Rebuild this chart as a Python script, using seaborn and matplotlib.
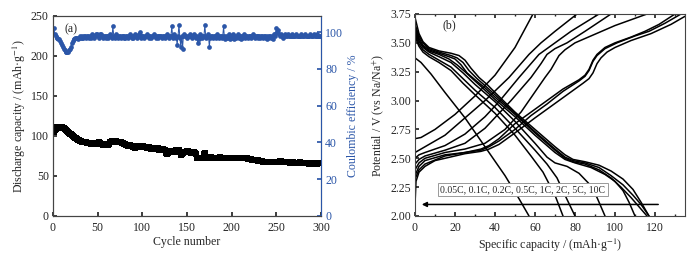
import numpy as np
import pandas as pd
import matplotlib
matplotlib.use('Agg')
import matplotlib.pyplot as plt
from matplotlib.ticker import MultipleLocator, FormatStrFormatter
import seaborn as sns

# ---- panel (a): cycling data ----
cycles = list(range(1, 301))

capacity = [
    105, 107, 109, 110, 111, 111, 111, 111, 111, 111, 110, 110, 109, 108, 107, 106, 105, 104, 103, 102,
    101, 100, 99, 99, 98, 97, 96, 95, 95, 94, 94, 93, 93, 92, 92, 92, 92, 91, 91, 91,
    91, 91, 90, 91, 91, 90, 90, 90, 91, 91, 91, 92, 91, 90, 90, 89, 90, 89, 90, 90,
    89, 89, 90, 92, 93, 94, 94, 93, 94, 94, 93, 93, 93, 92, 92, 92, 91, 91, 90, 90,
    90, 89, 89, 88, 88, 89, 88, 87, 87, 86, 86, 85, 86, 87, 87, 88, 87, 87, 87, 86,
    87, 86, 86, 86, 85, 85, 86, 86, 85, 84, 84, 85, 85, 84, 84, 84, 85, 84, 83, 83,
    84, 84, 84, 83, 82, 80, 79, 78, 79, 80, 81, 81, 80, 80, 80, 81, 81, 82, 82, 83,
    82, 80, 76, 77, 79, 80, 80, 80, 80, 81, 81, 80, 80, 79, 79, 80, 80, 80, 79, 77,
    73, 72, 72, 72, 72, 73, 72, 72, 78, 79, 74, 74, 73, 73, 73, 74, 74, 73, 73, 73,
    73, 73, 72, 73, 73, 73, 74, 73, 73, 73, 73, 72, 72, 73, 73, 73, 73, 73, 72, 72,
    73, 73, 72, 72, 72, 73, 72, 72, 72, 72, 73, 72, 72, 72, 73, 72, 72, 71, 71, 71,
    71, 71, 70, 70, 70, 70, 70, 70, 69, 70, 69, 69, 69, 69, 68, 68, 68, 68, 68, 68,
    68, 68, 68, 67, 67, 67, 68, 68, 68, 67, 67, 68, 68, 69, 69, 68, 68, 68, 67, 67,
    67, 67, 67, 67, 66, 66, 67, 67, 67, 66, 66, 66, 66, 66, 66, 66, 67, 66, 66, 66,
    66, 66, 66, 66, 66, 66, 65, 66, 66, 66, 65, 66, 66, 66, 65, 66, 66, 66, 66, 66,
]

efficiency = [
    102, 99, 98, 97, 97, 96, 96, 95, 94, 93, 92, 91, 90, 89, 89, 89, 89, 90, 91, 92,
    94, 95, 96, 96, 97, 97, 97, 96, 97, 98, 97, 97, 98, 97, 98, 98, 97, 98, 98, 97,
    98, 97, 98, 99, 98, 97, 98, 99, 99, 98, 97, 98, 99, 99, 98, 97, 98, 98, 97, 98,
    98, 97, 98, 99, 98, 97, 103, 98, 97, 98, 99, 98, 97, 98, 98, 97, 98, 98, 97, 98,
    97, 98, 98, 97, 98, 99, 98, 97, 98, 97, 98, 99, 98, 97, 98, 99, 100, 98, 97, 98,
    98, 97, 98, 98, 99, 98, 97, 98, 98, 97, 98, 98, 99, 98, 97, 98, 98, 97, 98, 98,
    98, 97, 98, 98, 97, 98, 98, 99, 98, 97, 98, 98, 103, 97, 98, 99, 98, 97, 93, 98,
    104, 97, 92, 98, 91, 98, 99, 98, 98, 97, 98, 98, 99, 98, 98, 97, 98, 99, 98, 97,
    98, 94, 96, 98, 99, 98, 97, 98, 98, 104, 97, 98, 99, 98, 92, 97, 98, 98, 97, 98,
    98, 97, 98, 99, 98, 97, 98, 98, 97, 98, 103, 96, 98, 97, 98, 97, 99, 96, 98, 97,
    99, 98, 96, 98, 97, 98, 99, 97, 98, 96, 98, 97, 98, 99, 97, 98, 98, 97, 98, 98,
    98, 97, 98, 99, 98, 97, 98, 98, 97, 98, 98, 97, 98, 98, 97, 98, 98, 97, 96, 98,
    97, 98, 98, 97, 98, 96, 99, 98, 99, 102, 100, 101, 99, 98, 99, 98, 97, 98, 98, 99,
    98, 98, 99, 98, 98, 98, 99, 98, 98, 98, 98, 99, 98, 98, 98, 98, 98, 99, 98, 98,
    98, 99, 98, 98, 98, 98, 98, 99, 98, 98, 98, 99, 98, 98, 98, 99, 98, 98, 98, 98,
]

# ---- panel (b): charge / discharge profiles, (capacity, potential) points ----
rates = ['0.05C', '0.1C', '0.2C', '0.5C', '1C', '2C', '5C', '10C']

chg_005C = [(0, 2.1), (0.5, 2.3), (2, 2.38), (5, 2.43), (10, 2.48), (15, 2.5), (25, 2.54), (33, 2.56),
            (37, 2.58), (42, 2.62), (50, 2.72), (60, 2.85), (68, 2.95), (76, 3.05), (84, 3.15), (87, 3.19),
            (89, 3.24), (91, 3.32), (93, 3.37), (96, 3.42), (100, 3.46), (108, 3.52), (118, 3.58),
            (128, 3.66), (135, 3.73)]
chg_01C = [(0, 2.32), (2, 2.4), (5, 2.45), (15, 2.52), (25, 2.55), (33, 2.57), (37, 2.6), (42, 2.65),
           (50, 2.75), (58, 2.87), (66, 2.97), (74, 3.08), (82, 3.17), (85, 3.21), (87, 3.26), (89, 3.34),
           (91, 3.39), (95, 3.45), (101, 3.5), (110, 3.56), (117, 3.6), (125, 3.67), (133, 3.75)]
chg_02C = [(0, 2.35), (2, 2.43), (5, 2.48), (15, 2.53), (25, 2.55), (33, 2.58), (37, 2.61), (42, 2.67),
           (50, 2.8), (58, 2.9), (66, 3.0), (74, 3.1), (82, 3.18), (85, 3.22), (87, 3.27), (89, 3.35),
           (91, 3.4), (95, 3.46), (100, 3.5), (108, 3.55), (115, 3.6), (122, 3.66), (130, 3.75)]
chg_05C = [(0, 2.4), (2, 2.46), (5, 2.5), (15, 2.55), (25, 2.58), (35, 2.63), (45, 2.75), (53, 2.9),
           (57, 3.0), (65, 3.2), (68, 3.27), (70, 3.33), (72, 3.39), (75, 3.44), (80, 3.5), (88, 3.56),
           (100, 3.65), (116, 3.75)]
chg_1C = [(0, 2.45), (2, 2.49), (5, 2.52), (15, 2.57), (25, 2.63), (35, 2.76), (48, 3.0), (58, 3.2),
          (63, 3.32), (66, 3.4), (70, 3.45), (76, 3.5), (85, 3.6), (98, 3.75)]
chg_2C = [(0, 2.5), (2, 2.53), (5, 2.55), (15, 2.61), (25, 2.71), (35, 2.86), (42, 2.99), (52, 3.2),
          (62, 3.4), (70, 3.5), (78, 3.6), (92, 3.75)]
chg_5C = [(0, 2.55), (2, 2.57), (5, 2.6), (15, 2.7), (25, 2.85), (35, 3.0), (47, 3.2), (57, 3.4),
          (63, 3.5), (70, 3.6), (81, 3.75)]
chg_10C = [(0, 2.67), (3, 2.68), (10, 2.75), (20, 2.88), (30, 3.04), (40, 3.22), (50, 3.46), (59, 3.75)]

dis_005C = [(0, 3.72), (1, 3.65), (2, 3.58), (4, 3.51), (7, 3.46), (12, 3.43), (18, 3.41), (22, 3.39),
            (25, 3.35), (28, 3.28), (32, 3.2), (36, 3.14), (40, 3.07), (50, 2.9), (60, 2.75), (70, 2.6),
            (75, 2.53), (79, 2.49), (85, 2.47), (92, 2.44), (98, 2.39), (104, 2.32), (109, 2.23),
            (113, 2.12), (117, 2.0)]
dis_01C = [(0, 3.66), (1, 3.61), (2, 3.56), (4, 3.5), (7, 3.45), (12, 3.42), (18, 3.39), (21, 3.37),
           (24, 3.33), (27, 3.26), (31, 3.19), (35, 3.13), (40, 3.05), (50, 2.89), (60, 2.73), (70, 2.58),
           (75, 2.51), (79, 2.48), (85, 2.46), (92, 2.42), (98, 2.35), (104, 2.27), (109, 2.18),
           (113, 2.1), (117, 2.0)]
dis_02C = [(0, 3.64), (1, 3.59), (2, 3.54), (4, 3.48), (7, 3.44), (12, 3.41), (17, 3.38), (20, 3.36),
           (23, 3.31), (26, 3.24), (30, 3.18), (35, 3.11), (40, 3.03), (50, 2.88), (60, 2.72), (70, 2.57),
           (75, 2.5), (79, 2.47), (85, 2.45), (92, 2.4), (98, 2.33), (103, 2.25), (108, 2.16),
           (112, 2.08), (116, 2.0)]
dis_05C = [(0, 3.62), (1, 3.57), (2, 3.52), (4, 3.47), (7, 3.43), (12, 3.4), (17, 3.36), (21, 3.31),
           (25, 3.25), (30, 3.17), (40, 3.01), (50, 2.86), (60, 2.7), (70, 2.55), (75, 2.49), (80, 2.46),
           (88, 2.42), (95, 2.36), (100, 2.3), (104, 2.22), (107, 2.12), (110, 2.0)]
dis_1C = [(0, 3.6), (1, 3.55), (2, 3.51), (4, 3.46), (7, 3.42), (12, 3.38), (18, 3.33), (24, 3.24),
          (30, 3.14), (40, 2.99), (50, 2.82), (60, 2.63), (66, 2.51), (70, 2.46), (76, 2.43), (82, 2.37),
          (87, 2.28), (91, 2.16), (95, 2.0)]
dis_2C = [(0, 3.58), (1, 3.53), (2, 3.49), (4, 3.44), (7, 3.4), (12, 3.35), (18, 3.29), (24, 3.19),
          (30, 3.09), (40, 2.94), (50, 2.76), (60, 2.57), (66, 2.45), (71, 2.33), (75, 2.18), (80, 2.0)]
dis_5C = [(0, 3.56), (1, 3.51), (2, 3.47), (4, 3.42), (7, 3.38), (12, 3.33), (18, 3.26), (24, 3.15),
          (30, 3.05), (40, 2.89), (50, 2.7), (58, 2.52), (64, 2.38), (70, 2.18), (74, 2.0)]
dis_10C = [(0, 3.37), (3, 3.33), (8, 3.23), (15, 3.07), (25, 2.85), (35, 2.6), (45, 2.35), (52, 2.15),
           (57, 2.0)]

charge_curves = [chg_005C, chg_01C, chg_02C, chg_05C, chg_1C, chg_2C, chg_5C, chg_10C]
discharge_curves = [dis_005C, dis_01C, dis_02C, dis_05C, dis_1C, dis_2C, dis_5C, dis_10C]

blue = '#2b56a8'
fs = 8.6

sns.set_theme(style='ticks')
plt.rcParams['font.family'] = ['Liberation Serif', 'DejaVu Serif']
plt.rcParams['mathtext.fontset'] = 'stix'
plt.rcParams.update({'xtick.direction': 'in', 'ytick.direction': 'in',
                     'xtick.major.size': 3, 'ytick.major.size': 3,
                     'xtick.minor.size': 1.5, 'ytick.minor.size': 1.5,
                     'axes.linewidth': 0.8, 'axes.edgecolor': '#444444'})

W, H = 693, 256
fig = plt.figure(figsize=(W / 100, H / 100), dpi=100)

# ---------------- panel (a) ----------------
ax1 = fig.add_axes([53 / W, 1 - 216 / H, 268 / W, 200 / H])
ax2 = ax1.twinx()

df_a = pd.DataFrame({'cycle': cycles, 'capacity': capacity, 'ce': efficiency})

sns.lineplot(data=df_a, x='cycle', y='ce', ax=ax2, color=blue, linewidth=0.7,
             marker='o', markersize=3.4, markeredgewidth=0, markerfacecolor=blue)
sns.scatterplot(data=df_a, x='cycle', y='capacity', ax=ax1, color='black', marker='s',
                s=17, linewidth=0)

ax1.set_xlim(0, 300)
ax1.set_ylim(0, 250)
ax2.set_ylim(0, 108.7)
ax1.xaxis.set_major_locator(MultipleLocator(50))
ax1.yaxis.set_major_locator(MultipleLocator(50))
ax2.yaxis.set_major_locator(MultipleLocator(20))
ax1.set_xlabel('Cycle number', fontsize=fs, labelpad=1.5)
ax1.set_ylabel('Discharge capacity / (mAh·g$^{-1}$)', fontsize=fs, labelpad=2)
ax2.set_ylabel('Coulombic efficiency / %', fontsize=fs, color=blue, labelpad=3)
ax1.tick_params(axis='y', labelsize=fs, pad=3)
ax1.tick_params(axis='x', labelsize=fs, pad=4.5)
ax2.tick_params(labelsize=fs, pad=3, colors=blue)
ax2.spines['right'].set_color(blue)
ax1.text(13, 233, '(a)', fontsize=fs, ha='left', va='center')

# ---------------- panel (b) ----------------
ax3 = fig.add_axes([415 / W, 1 - 216 / H, 270 / W, 202 / H])

rows = []
for rate, curve in zip(rates, charge_curves):
    for c, v in curve:
        rows.append({'curve': 'chg ' + rate, 'capacity': c, 'potential': v})
for rate, curve in zip(rates, discharge_curves):
    for c, v in curve:
        rows.append({'curve': 'dis ' + rate, 'capacity': c, 'potential': v})
df_b = pd.DataFrame(rows)

sns.lineplot(data=df_b, x='capacity', y='potential', units='curve', estimator=None,
             sort=False, color='black', linewidth=1.1, ax=ax3)

ax3.set_xlim(0, 135)
ax3.set_ylim(2.0, 3.75)
ax3.xaxis.set_major_locator(MultipleLocator(20))
ax3.xaxis.set_minor_locator(MultipleLocator(10))
ax3.yaxis.set_major_locator(MultipleLocator(0.25))
ax3.yaxis.set_major_formatter(FormatStrFormatter('%.2f'))
ax3.tick_params(labelsize=fs, pad=3, top=True, which='both')
ax3.tick_params(axis='x', pad=4.5)
ax3.set_xlabel('Specific capacity / (mAh·g$^{-1}$)', fontsize=fs, labelpad=1.5)
ax3.set_ylabel('Potential / V (vs Na/Na$^{+}$)', fontsize=fs, labelpad=2)
ax3.text(17, 3.65, '(b)', fontsize=fs, ha='center', va='center')

ax3.annotate('', xy=(2, 2.1), xytext=(123, 2.1),
             arrowprops=dict(arrowstyle='-|>', color='black', lw=1.1, mutation_scale=7))
ax3.text(54, 2.23, ', '.join(rates), fontsize=7, ha='center', va='center',
         bbox=dict(boxstyle='square,pad=0.25', fc='white', ec='#999999', lw=0.7))

fig.savefig('out.png', dpi=100)
